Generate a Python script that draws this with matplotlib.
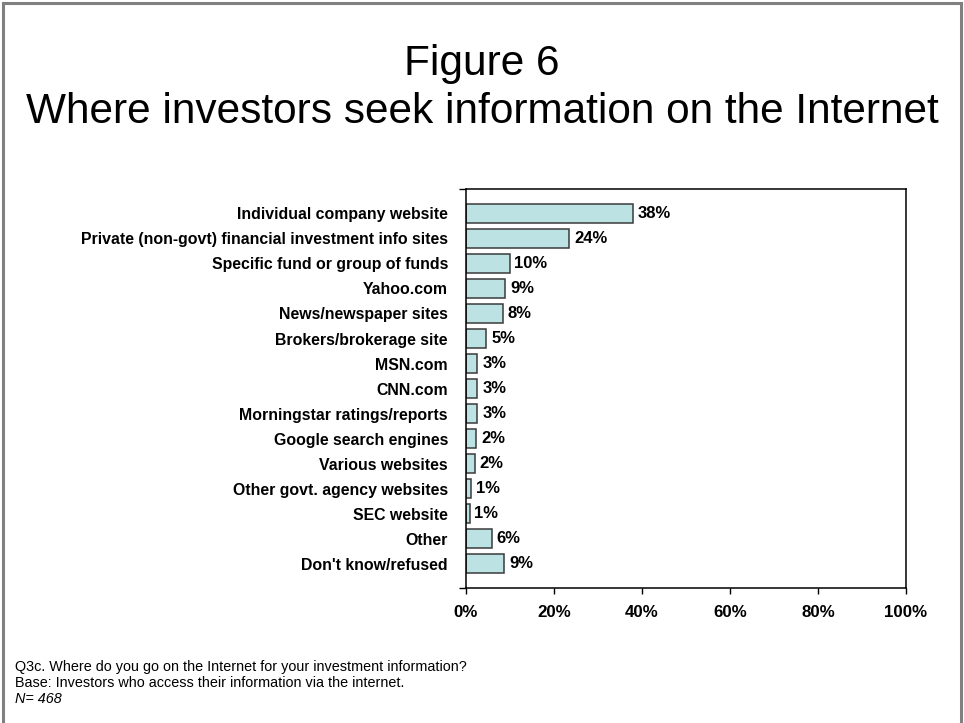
import numpy as np
import matplotlib
matplotlib.use("Agg")
import matplotlib.pyplot as plt
from matplotlib.patches import Rectangle
from matplotlib.ticker import FixedLocator

plt.rcParams["font.family"] = ["Liberation Sans", "DejaVu Sans"]

categories = [
    "Individual company website",
    "Private (non-govt) financial investment info sites",
    "Specific fund or group of funds",
    "Yahoo.com",
    "News/newspaper sites",
    "Brokers/brokerage site",
    "MSN.com",
    "CNN.com",
    "Morningstar ratings/reports",
    "Google search engines",
    "Various websites",
    "Other govt. agency websites",
    "SEC website",
    "Other",
    "Don't know/refused",
]
shares = [38.0, 23.5, 9.9, 8.9, 8.3, 4.6, 2.6, 2.6, 2.6, 2.3, 2.0, 1.2, 0.8, 5.9, 8.7]
xticks = [0, 20, 40, 60, 80, 100]

title_lines = ["Figure 6", "Where investors seek information on the Internet"]
notes = [
    "Q3c. Where do you go on the Internet for your investment information?",
    "Base: Investors who access their information via the internet.",
]
base_n = "N= 468"

fig = plt.figure(figsize=(9.64, 7.23), dpi=100)

# grey frame round the whole slide
fig.patches.append(Rectangle((0.003, -0.01), 0.994, 1.006, transform=fig.transFigure,
                             fill=False, edgecolor="#808080", linewidth=2.2))

fig.text(0.5, 0.911, title_lines[0], ha="center", va="center", fontsize=30.5)
fig.text(0.5, 0.845, title_lines[1], ha="center", va="center", fontsize=30.5)

ax = fig.add_axes([0.4834, 0.1867, 0.4564, 0.5519])
y = np.arange(len(categories))
ax.barh(y, shares, height=0.76, color="#BDE2E4", edgecolor="#3a3a3a", linewidth=1.1)

for yi, v in zip(y, shares):
    ax.text(v + 1.1, yi, f"{v:.0f}%", va="center", ha="left",
            fontsize=12, fontweight="bold")

ax.set_xlim(0, 100)
ax.set_ylim(14.98, -0.98)
ax.set_xticks(xticks)
ax.set_xticklabels([f"{t}%" for t in xticks], fontsize=12.2, fontweight="bold")
ax.set_yticks(y)
ax.set_yticklabels(categories, fontsize=11.4, fontweight="bold")
ax.tick_params(axis="y", which="major", length=0, pad=13)
ax.yaxis.set_minor_locator(FixedLocator([-0.98, 14.98]))
ax.tick_params(axis="y", which="minor", length=5, width=1)
ax.tick_params(axis="x", length=4, width=1, pad=8)

for side in ["top", "right", "bottom", "left"]:
    ax.spines[side].set_linewidth(1.1)
    ax.spines[side].set_color("black")

fig.text(0.016, 0.077, notes[0], ha="left", va="center", fontsize=10.4)
fig.text(0.016, 0.055, notes[1], ha="left", va="center", fontsize=10.4)
fig.text(0.016, 0.033, base_n, ha="left", va="center", fontsize=10.4, style="italic")

fig.savefig("out.png", dpi=100)
